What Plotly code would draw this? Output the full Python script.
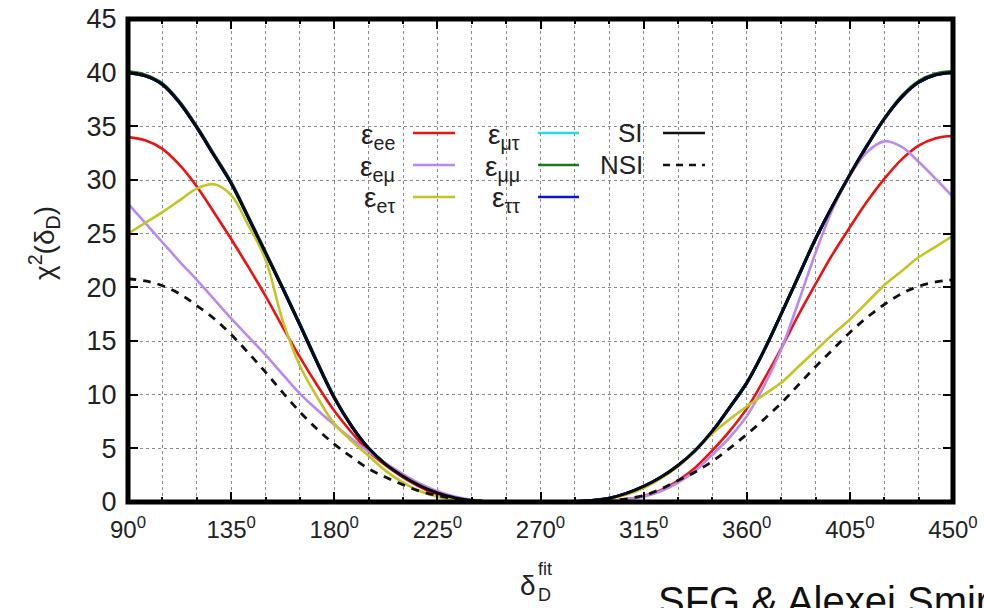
import plotly.graph_objects as go

# ---- data (every 7.5 degrees) ----
deg = [90, 97.5, 105, 112.5, 120, 127.5, 135, 142.5, 150, 157.5, 165, 172.5,
       180, 187.5, 195, 202.5, 210, 217.5, 225, 232.5, 240, 247.5, 255, 262.5,
       270, 277.5, 285, 292.5, 300, 307.5, 315, 322.5, 330, 337.5, 345, 352.5,
       360, 367.5, 375, 382.5, 390, 397.5, 405, 412.5, 420, 427.5, 435, 442.5,
       450]

si = [40.0, 39.7, 38.9, 37.2, 34.9, 32.3, 29.7, 26.5, 23.2, 19.9, 16.5, 13.0,
      9.7, 7.1, 5.0, 3.5, 2.4, 1.5, 0.85, 0.4, 0.15, 0.04, 0.0, 0.0,
      0.0, 0.0, 0.05, 0.15, 0.35, 0.8, 1.45, 2.3, 3.4, 4.8, 6.6, 8.8,
      11.1, 14.1, 17.5, 21.0, 24.5, 27.6, 30.5, 33.2, 35.7, 37.7, 39.1, 39.8,
      40.0]
e_mt = [40.0, 39.7, 38.9, 37.2, 34.9, 32.3, 29.7, 26.5, 23.2, 19.9, 16.5, 13.0,
        9.7, 7.1, 5.0, 3.5, 2.4, 1.5, 0.85, 0.4, 0.15, 0.04, 0.0, 0.0,
        0.0, 0.0, 0.05, 0.15, 0.35, 0.8, 1.45, 2.3, 3.4, 4.8, 6.6, 8.8,
        11.1, 14.1, 17.5, 21.0, 24.5, 27.6, 30.5, 33.2, 35.7, 37.7, 39.1, 39.8,
        40.0]
e_mm = [40.1, 39.8, 39.0, 37.3, 35.0, 32.4, 29.8, 26.6, 23.3, 20.0, 16.6, 13.1,
        9.8, 7.1, 5.0, 3.5, 2.4, 1.5, 0.85, 0.4, 0.15, 0.04, 0.0, 0.0,
        0.0, 0.0, 0.05, 0.15, 0.35, 0.8, 1.45, 2.3, 3.4, 4.8, 6.6, 8.8,
        11.1, 14.1, 17.5, 21.0, 24.5, 27.6, 30.5, 33.2, 35.7, 37.8, 39.2, 39.9,
        40.1]
e_tt = [40.0, 39.7, 38.9, 37.2, 34.9, 32.3, 29.7, 26.5, 23.2, 19.9, 16.5, 13.0,
        9.7, 7.1, 5.0, 3.5, 2.4, 1.5, 0.85, 0.4, 0.15, 0.04, 0.0, 0.0,
        0.0, 0.0, 0.05, 0.15, 0.35, 0.8, 1.45, 2.3, 3.4, 4.8, 6.6, 8.8,
        11.1, 14.1, 17.5, 21.0, 24.5, 27.6, 30.5, 33.2, 35.7, 37.7, 39.1, 39.8,
        40.0]
e_ee = [34.0, 33.7, 32.9, 31.4, 29.4, 27.0, 24.5, 21.9, 19.2, 16.3, 13.5, 10.9,
        8.5, 6.5, 4.7, 3.4, 2.3, 1.4, 0.7, 0.3, 0.1, 0.02, 0.0, 0.0,
        0.0, 0.0, 0.0, 0.02, 0.1, 0.25, 0.55, 1.1, 2.0, 3.2, 4.8, 6.6,
        8.7, 11.4, 14.3, 17.4, 20.3, 23.1, 25.6, 28.0, 30.1, 31.9, 33.2, 33.9,
        34.1]
e_em = [27.8, 26.0, 24.2, 22.4, 20.7, 18.9, 17.1, 15.4, 13.7, 11.9, 10.1, 8.6,
        7.2, 5.9, 4.7, 3.6, 2.6, 1.7, 1.0, 0.5, 0.2, 0.05, 0.0, 0.0,
        0.0, 0.0, 0.0, 0.02, 0.1, 0.25, 0.5, 1.0, 1.8, 2.9, 4.4, 6.0,
        8.0, 10.8, 14.2, 18.6, 23.2, 27.3, 30.4, 32.6, 33.6, 33.1, 31.7, 30.1,
        28.4]
e_et = [25.0, 26.0, 27.0, 28.1, 29.2, 29.6, 28.6, 25.8, 22.6, 16.9, 12.7, 9.8,
        7.3, 5.7, 4.3, 2.9, 1.8, 1.0, 0.5, 0.2, 0.05, 0.0, 0.0, 0.0,
        0.0, 0.0, 0.0, 0.1, 0.3, 0.7, 1.3, 2.2, 3.3, 4.8, 6.4, 7.7,
        8.9, 10.0, 11.1, 12.6, 14.1, 15.6, 17.0, 18.6, 20.2, 21.5, 22.8, 23.8,
        24.8]
nsi = [20.8, 20.6, 20.15, 19.4, 18.3, 17.1, 15.6, 13.9, 12.1, 10.2, 8.4, 6.8,
       5.4, 4.2, 3.1, 2.3, 1.6, 1.0, 0.6, 0.3, 0.1, 0.02, 0.0, 0.0,
       0.0, 0.0, 0.0, 0.02, 0.1, 0.3, 0.6, 1.2, 2.0, 2.8, 3.8, 5.0,
       6.3, 7.7, 9.2, 10.9, 12.6, 14.2, 15.8, 17.2, 18.4, 19.4, 20.1, 20.5,
       20.7]

xticks = [90, 135, 180, 225, 270, 315, 360, 405, 450]
xticktext = [f"{v}<sup>0</sup>" for v in xticks]
yticks = [0, 5, 10, 15, 20, 25, 30, 35, 40, 45]

# ---- figure ----
W, H = 984, 608
ML, MR, MT, MB = 128, 31, 19, 106
PW, PH = W - ML - MR, H - MT - MB


def px(x):
    return (x - ML) / PW


def py(y):
    return (H - MB - y) / PH


FONT = "Liberation Sans"
TXT = "#222222"

fig = go.Figure()

curves = [
    ("ε<sub>μτ</sub>", e_mt, "#22dddd", "solid", 3),
    ("ε<sub>μμ</sub>", e_mm, "#1a7a1a", "solid", 3),
    ("ε<sub>ττ</sub>", e_tt, "#0a14d8", "solid", 3),
    ("ε<sub>ee</sub>", e_ee, "#ee1111", "solid", 2.6),
    ("ε<sub>eμ</sub>", e_em, "#bb88ee", "solid", 2.6),
    ("ε<sub>eτ</sub>", e_et, "#c4c425", "solid", 2.6),
    ("NSI", nsi, "#111111", "8px,7px", 2.8),
    ("SI", si, "#0a0a14", "solid", 3),
]
for name, ys, col, dash, w in curves:
    fig.add_trace(go.Scatter(x=deg, y=ys, mode="lines", name=name,
                             line=dict(color=col, width=w, dash=dash,
                                       shape="spline", smoothing=1.0),
                             showlegend=False))

GRIDC = "#8a8a8a"

fig.update_xaxes(range=[90, 450], tickmode="array", tickvals=xticks,
                 ticktext=xticktext, ticks="inside", ticklen=10, tickwidth=2,
                 tickcolor="black", showline=True, linecolor="black",
                 linewidth=1, mirror="ticks", zeroline=False, automargin=False,
                 ticklabelstandoff=6,
                 tickfont=dict(family=FONT, size=24, color=TXT),
                 showgrid=True, gridcolor=GRIDC, gridwidth=1, griddash="dot",
                 minor=dict(tickmode="linear", tick0=90, dtick=15,
                            ticks="inside", ticklen=5, tickcolor="black",
                            showgrid=True, gridcolor=GRIDC, griddash="dot"))
fig.update_yaxes(range=[0, 45], tickmode="array", tickvals=yticks,
                 ticks="inside", ticklen=10, tickwidth=2, tickcolor="black",
                 showline=True, linecolor="black", linewidth=1, mirror="ticks",
                 zeroline=False, automargin=False, ticklabelstandoff=5,
                 tickfont=dict(family=FONT, size=27, color=TXT),
                 showgrid=True, gridcolor=GRIDC, gridwidth=1, griddash="dot")

shapes = []
annotations = []

# legend box (white, hides the grid)
shapes.append(dict(type="rect", xref="paper", yref="paper",
                   x0=px(346), x1=px(716), y0=py(214), y1=py(117),
                   fillcolor="white", line=dict(width=0), layer="between"))

legend_items = [
    ("ε<sub>ee</sub>", "#ee1111", "solid", 397, 413, 455, 133),
    ("ε<sub>eμ</sub>", "#bb88ee", "solid", 397, 413, 455, 165),
    ("ε<sub>eτ</sub>", "#c4c425", "solid", 397, 413, 455, 197),
    ("ε<sub>μτ</sub>", "#22dddd", "solid", 522, 538, 579, 133),
    ("ε<sub>μμ</sub>", "#1a7a1a", "solid", 522, 538, 579, 165),
    ("ε<sub>ττ</sub>", "#0a14d8", "solid", 522, 538, 579, 197),
    ("SI", "#111111", "solid", 645, 663, 705, 133),
    ("NSI", "#111111", "dash", 645, 663, 705, 165),
]
for txt, col, dash, tx, l0, l1, ly in legend_items:
    is_eps = txt.startswith("ε")
    annotations.append(dict(
        text=txt, xref="paper", yref="paper", x=px(tx),
        y=py(ly + (3 if is_eps else 0)), xanchor="right", yanchor="middle",
        showarrow=False,
        font=dict(family=FONT, size=28 if is_eps else 26, color=TXT)))
    shapes.append(dict(type="line", xref="paper", yref="paper",
                       x0=px(l0), x1=px(l1), y0=py(ly), y1=py(ly),
                       line=dict(color=col, width=2.6,
                                 dash=("7px,6px" if dash == "dash" else "solid"))))

# thick plot frame
shapes.append(dict(type="rect", xref="paper", yref="paper", x0=0, x1=1,
                   y0=0, y1=1, line=dict(color="black", width=5),
                   fillcolor="rgba(0,0,0,0)", layer="above"))

# axis titles
annotations.append(dict(text="χ<sup>2</sup>(δ<sub>D</sub>)", xref="paper",
                        yref="paper", x=px(44), y=py(243), xanchor="center",
                        yanchor="middle", textangle=-90, showarrow=False,
                        font=dict(family=FONT, size=28, color=TXT)))
annotations.append(dict(text="δ", xref="paper", yref="paper", x=px(538),
                        y=py(585), xanchor="right", yanchor="middle",
                        showarrow=False,
                        font=dict(family=FONT, size=28, color=TXT)))
annotations.append(dict(text="fit", xref="paper", yref="paper", x=px(536),
                        y=py(569), xanchor="left", yanchor="middle",
                        showarrow=False,
                        font=dict(family=FONT, size=18, color=TXT)))
annotations.append(dict(text="D", xref="paper", yref="paper", x=px(536),
                        y=py(595), xanchor="left", yanchor="middle",
                        showarrow=False,
                        font=dict(family=FONT, size=18, color=TXT)))
# credit line (clipped by the page edge in the original)
annotations.append(dict(text="SFG &amp; Alexei Smirnov", xref="paper",
                        yref="paper", x=px(656), y=py(577), xanchor="left",
                        yanchor="top", showarrow=False,
                        font=dict(family=FONT, size=40, color="#111111")))

fig.update_layout(width=W, height=H, margin=dict(l=ML, r=MR, t=MT, b=MB),
                  paper_bgcolor="white", plot_bgcolor="white",
                  shapes=shapes, annotations=annotations, showlegend=False,
                  font=dict(family=FONT))

fig.write_html("out.html")
